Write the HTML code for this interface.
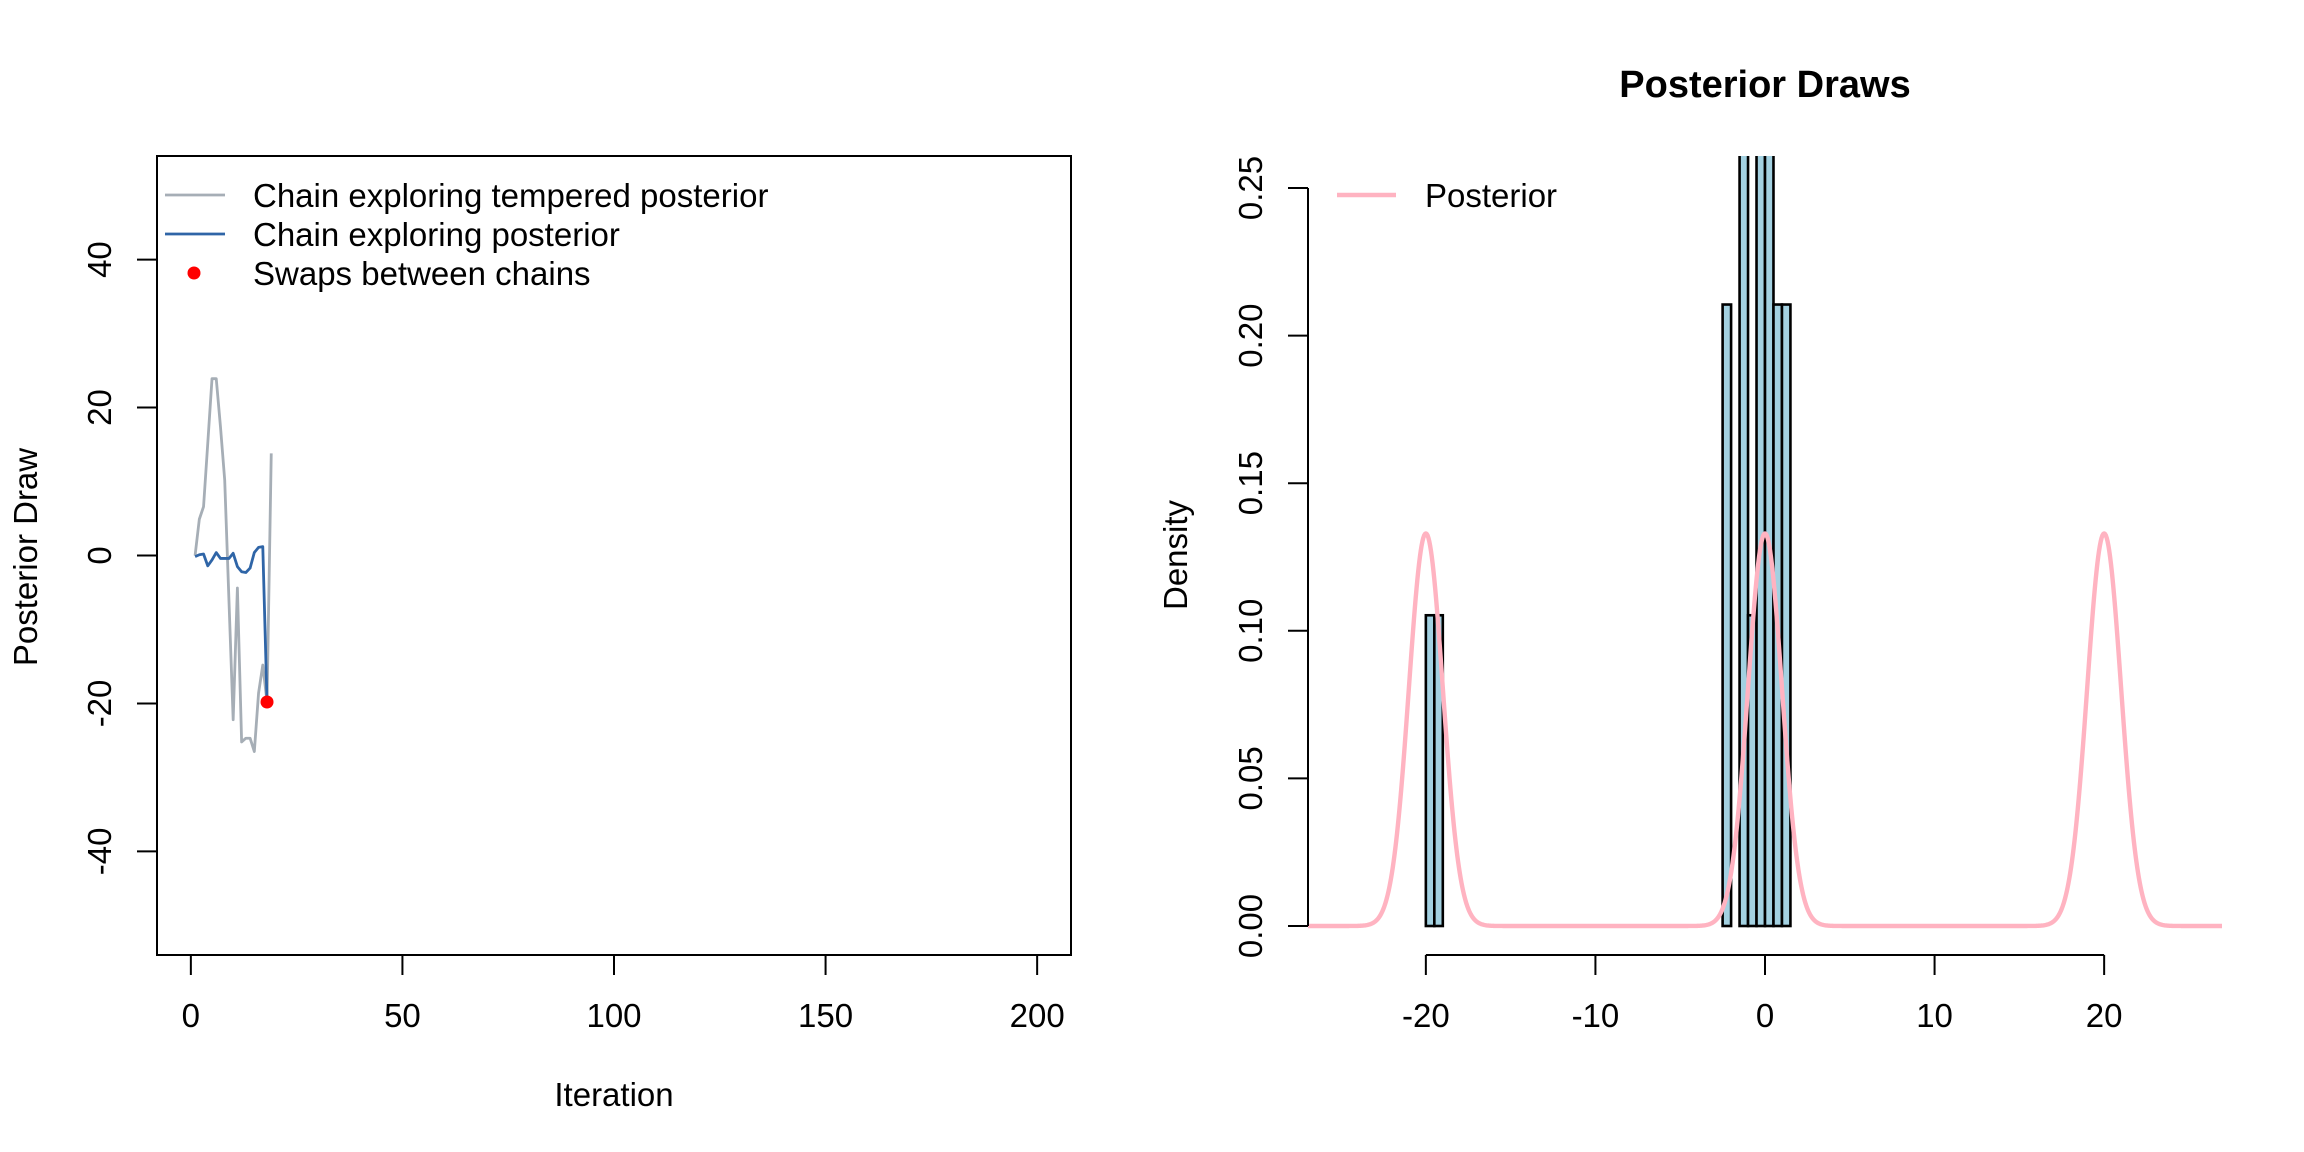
<!DOCTYPE html>
<html><head><meta charset="utf-8"><style>
body{margin:0;background:#fff}
svg{display:block;font-family:"Liberation Sans",Arial,sans-serif}
</style></head><body>
<svg id="c" width="2304" height="1152" viewBox="0 0 2304 1152">
<defs>
<clipPath id="clipL"><rect x="157" y="156" width="914" height="799"/></clipPath>
<clipPath id="clipR"><rect x="1308" y="156" width="914" height="799"/></clipPath>
</defs>
<g id="left"></g>
<g id="right"></g>
</svg>
<script>
// ---- Trace data ----
const iterGray = [1,2,3,4,5,6,7,8,9,10,11,12,13,14,15,16,17,18,19];
const drawsTempered = [0,4.9,6.6,15.2,23.9,23.9,17.4,10.2,-6.0,-22.2,-4.4,-25.2,-24.7,-24.7,-26.5,-18.6,-14.8,-19.8,13.8];
const iterBlue = [1,2,3,4,5,6,7,8,9,10,11,12,13,14,15,16,17,18];
const drawsPosterior = [-0.15,0.1,0.2,-1.4,-0.6,0.4,-0.4,-0.4,-0.4,0.3,-1.5,-2.2,-2.3,-1.7,0.4,1.1,1.2,-19.8];
const swapIter = [18];
const swapDraw = [-19.8];
const xTicksL = [0,50,100,150,200];
const yTicksL = [-40,-20,0,20,40];
// ---- Histogram data ----
const binStarts = [-20,-19.5,-19,-18.5,-18,-17.5,-3,-2.5,-2,-1.5,-1,-0.5,0,0.5,1];
const binCounts = [1,1,0,0,0,0,0,2,0,3,1,3,4,2,2];
const nDraws = 19;
const binWidth = 0.5;
const xTicksR = [-20,-10,0,10,20];
const yTicksR = [0,0.05,0.10,0.15,0.20,0.25];
const yTickLabelsR = ["0.00","0.05","0.10","0.15","0.20","0.25"];
const mixMeans = [-20,0,20];
const mixSd = 1;

const FS=33, TL=20;
const NS="http://www.w3.org/2000/svg";
function mk(tag,attrs,parent){const e=document.createElementNS(NS,tag);for(const k in attrs)e.setAttribute(k,attrs[k]);parent.appendChild(e);return e;}
const L=document.getElementById('left'), R=document.getElementById('right');

const xL=v=>157+(v+8)*914/216;
const yL=v=>955-(v+54)*799/108;

let e;
e=mk('rect',{x:157,y:156,width:914,height:799,fill:'none',stroke:'#000','stroke-width':2},L);


xTicksL.forEach(t=>{
  e=mk('line',{x1:xL(t),x2:xL(t),y1:955,y2:955+TL,stroke:'#000','stroke-width':2},L);
  
  
  e=mk('text',{x:xL(t),y:1027,'font-size':FS,'text-anchor':'middle'},L);
  e.textContent=t;
  
  
});
yTicksL.forEach(t=>{
  e=mk('line',{x1:157-TL,x2:157,y1:yL(t),y2:yL(t),stroke:'#000','stroke-width':2},L);
  
  
  e=mk('text',{x:0,y:0,'font-size':FS,'text-anchor':'middle',transform:`translate(111,${yL(t)}) rotate(-90)`},L);
  e.textContent=t;
  
  
});
e=mk('text',{x:614,y:1106,'font-size':FS,'text-anchor':'middle'},L);
e.textContent='Iteration';


e=mk('text',{x:0,y:0,'font-size':FS,'text-anchor':'middle',transform:'translate(37,557) rotate(-90)'},L);
e.textContent='Posterior Draw';



const gL=mk('g',{'clip-path':'url(#clipL)'},L);
e=mk('polyline',{points:iterGray.map((x,i)=>xL(x)+','+yL(drawsTempered[i])).join(' '),fill:'none',stroke:'#a6aeb6','stroke-width':2.8,'stroke-linejoin':'round'},gL);


e=mk('polyline',{points:iterBlue.map((x,i)=>xL(x)+','+yL(drawsPosterior[i])).join(' '),fill:'none',stroke:'#2f65a7','stroke-width':2.8,'stroke-linejoin':'round'},gL);


swapIter.forEach((x,i)=>{
  e=mk('circle',{cx:xL(x),cy:yL(swapDraw[i]),r:6.5,fill:'#ff0000'},gL);
  
  
});
const legL=mk('g',{},L);


e=mk('line',{x1:165,x2:225,y1:195,y2:195,stroke:'#a6aeb6','stroke-width':2.8},legL);


e=mk('line',{x1:165,x2:225,y1:234,y2:234,stroke:'#2f65a7','stroke-width':2.8},legL);


e=mk('circle',{cx:194,cy:273,r:6.5,fill:'#ff0000'},legL);


[['Chain exploring tempered posterior',195],['Chain exploring posterior',234],['Swaps between chains',273]].forEach(([t,y])=>{
  e=mk('text',{x:253,y:y+12,'font-size':FS},legL);
  e.textContent=t;
  
  
});

const xR=v=>1308+(v+26.95)*914/53.9;
const yR=v=>926-v*2952;

e=mk('text',{x:1765,y:97,'font-size':38,'font-weight':'bold','text-anchor':'middle'},R);
e.textContent='Posterior Draws';



const gR=mk('g',{'clip-path':'url(#clipR)'},R);
binStarts.forEach((b,i)=>{
  const d=binCounts[i]/(nDraws*binWidth);
  const x0=xR(b), x1=xR(b+binWidth), y0=yR(d);
  e=mk('rect',{x:x0,y:y0,width:x1-x0,height:926-y0,fill:'#a3d1e1',stroke:'#000','stroke-width':2.6},gR);
  
  
});
let pts=[];
for(let v=-27;v<=27.001;v+=0.05){
  let d=0;mixMeans.forEach(m=>{d+=Math.exp(-0.5*((v-m)/mixSd)**2)/(Math.sqrt(2*Math.PI)*mixSd)/mixMeans.length;});
  pts.push(xR(v).toFixed(2)+','+yR(d).toFixed(2));
}
e=mk('polyline',{points:pts.join(' '),fill:'none',stroke:'#ffb3c1','stroke-width':4.4,'stroke-linejoin':'round'},gR);



e=mk('line',{x1:xR(-20),x2:xR(20),y1:955,y2:955,stroke:'#000','stroke-width':2},R);


xTicksR.forEach(t=>{
  e=mk('line',{x1:xR(t),x2:xR(t),y1:955,y2:955+TL,stroke:'#000','stroke-width':2},R);
  
  
  e=mk('text',{x:xR(t),y:1027,'font-size':FS,'text-anchor':'middle'},R);
  e.textContent=t;
  
  
});
e=mk('line',{x1:1308,x2:1308,y1:yR(0),y2:yR(0.25),stroke:'#000','stroke-width':2},R);


yTicksR.forEach((t,i)=>{
  e=mk('line',{x1:1308-TL,x2:1308,y1:yR(t),y2:yR(t),stroke:'#000','stroke-width':2},R);
  
  
  e=mk('text',{x:0,y:0,'font-size':FS,'text-anchor':'middle',transform:`translate(1262,${yR(t)}) rotate(-90)`},R);
  e.textContent=yTickLabelsR[i];
  
  
});
e=mk('text',{x:0,y:0,'font-size':FS,'text-anchor':'middle',transform:'translate(1187,555) rotate(-90)'},R);
e.textContent='Density';


e=mk('line',{x1:1337,x2:1396,y1:195,y2:195,stroke:'#ffb3c1','stroke-width':4.4},R);


e=mk('text',{x:1425,y:207,'font-size':FS},R);
e.textContent='Posterior';


</script>
</body></html>
